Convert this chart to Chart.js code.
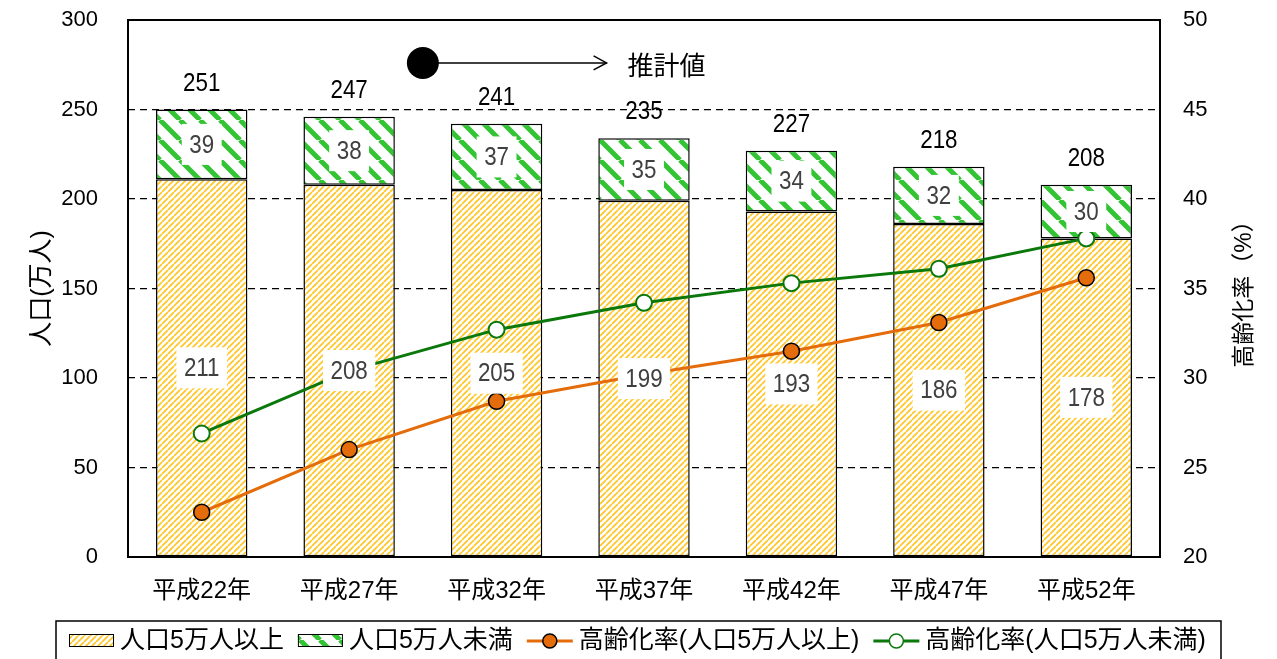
<!DOCTYPE html>
<html>
<head>
<meta charset="utf-8">
<script src="https://cdn.jsdelivr.net/npm/chart.js@4.4.0/dist/chart.umd.min.js"></script>
<style>
  html,body{margin:0;padding:0;background:#fff}
  #wrap{width:1277px;height:659px}
</style>
</head>
<body>
<div id="wrap"><canvas id="c" width="1277" height="659"></canvas></div>
<script>
// 年次
const years=['平成22年','平成27年','平成32年','平成37年','平成42年','平成47年','平成52年'];
// 人口（万人）
const popOver=[211,208,205,199,193,186,178];
const popUnder=[39,38,37,35,34,32,30];
const popTotal=[251,247,241,235,227,218,208];
// 高齢化率（%）
const agingOver=[22.5,26.0,28.7,30.2,31.5,33.1,35.6];
const agingUnder=[26.9,30.4,32.7,34.2,35.3,36.1,37.8];
// 軸
const popAxis={min:0,max:300,step:50};
const rateAxis={min:20,max:50,step:5};
const projFrom=2; // 平成32年から推計値

const FONT='"Liberation Sans","Noto Sans CJK JP",sans-serif';

function stripes(color,size,width,slash){
  const c=document.createElement('canvas');c.width=c.height=size;
  const g=c.getContext('2d');
  g.fillStyle='#fff';g.fillRect(0,0,size,size);
  g.strokeStyle=color;g.lineWidth=width;
  g.beginPath();
  for(let k=-1;k<=1;k++){
    if(slash){g.moveTo(k*size,size);g.lineTo(k*size+size,0);}
    else{g.moveTo(k*size,0);g.lineTo(k*size+size,size);}
  }
  g.stroke();
  return g.createPattern(c,'repeat');
}
const yellowHatch=stripes('#ffc626',6,1.7,true);
const greenHatch=stripes('#33c433',20,5,false);

// 数字は少し細めに描く
function narrowText(ctx,t,x,y,sx){
  ctx.save();ctx.translate(x,y);ctx.scale(sx,1);ctx.fillText(t,0,0);ctx.restore();
}

// 棒の中の値と合計
const barLabels={id:'barLabels',afterDatasetsDraw(chart){
  const ctx=chart.ctx;
  ctx.save();
  ctx.textAlign='center';ctx.textBaseline='middle';
  ctx.font='26px '+FONT;
  const sx=0.86;
  [0,1].forEach(di=>{
    chart.getDatasetMeta(di).data.forEach((bar,i)=>{
      const t=String(chart.data.datasets[di].data[i]);
      const cy=(bar.y+bar.base)/2;
      const w=ctx.measureText(t).width*sx+15,h=41;
      ctx.fillStyle='#fff';ctx.fillRect(bar.x-w/2,cy-h/2,w,h);
      ctx.fillStyle='#404040';narrowText(ctx,t,bar.x,cy+1,sx);
    });
  });
  ctx.fillStyle='#000';
  chart.getDatasetMeta(1).data.forEach((bar,i)=>{
    narrowText(ctx,String(popTotal[i]),bar.x,bar.y-26,sx);
  });
  ctx.restore();
}};

// 枠線
const frame={id:'frame',beforeDatasetsDraw(chart){
  const {ctx,chartArea:a}=chart;
  ctx.save();ctx.strokeStyle='#000';ctx.lineWidth=2;
  ctx.strokeRect(a.left,a.top,a.right-a.left,a.bottom-a.top);
  ctx.restore();
}};

// 軸タイトル（両側とも下から上へ）
const axisTitles={id:'axisTitles',afterDraw(chart){
  const {ctx,chartArea:a}=chart;
  const mid=(a.top+a.bottom)/2;
  ctx.save();ctx.fillStyle='#000';ctx.textAlign='center';ctx.textBaseline='middle';
  ctx.font='25px '+FONT;
  ctx.translate(42,mid);ctx.rotate(-Math.PI/2);ctx.fillText('人口(万人)',0,0);
  ctx.setTransform(1,0,0,1,0,0);
  ctx.font='23px '+FONT;
  ctx.translate(1245,mid);ctx.rotate(-Math.PI/2);ctx.fillText('高齢化率（%）',0,0);
  ctx.restore();
}};

// 推計値の矢印
const projMark={id:'projMark',afterDraw(chart){
  const {ctx,scales:{x,y}}=chart;
  const x0=(x.getPixelForValue(projFrom-1)+x.getPixelForValue(projFrom))/2;
  const x1=x.getPixelForValue(projFrom)+110;
  const cy=y.getPixelForValue(276);
  ctx.save();
  ctx.strokeStyle='#000';ctx.lineWidth=1.5;
  ctx.beginPath();ctx.moveTo(x0,cy);ctx.lineTo(x1,cy);ctx.stroke();
  ctx.beginPath();ctx.moveTo(x1-13,cy-7);ctx.lineTo(x1,cy);ctx.lineTo(x1-13,cy+7);ctx.stroke();
  ctx.fillStyle='#000';ctx.beginPath();ctx.arc(x0,cy,16,0,Math.PI*2);ctx.fill();
  ctx.font='26px '+FONT;ctx.textAlign='left';ctx.textBaseline='middle';
  ctx.fillText('推計値',x1+21,cy+5);
  ctx.restore();
}};

// 凡例（枠付き）
const boxLegend={id:'boxLegend',afterDraw(chart){
  const ctx=chart.ctx;
  ctx.save();
  ctx.strokeStyle='#000';ctx.lineWidth=1.5;
  ctx.strokeRect(56,621,1165,60);
  ctx.font='25px '+FONT;ctx.textBaseline='middle';ctx.textAlign='left';
  let px=69;const cy=641;
  chart.data.datasets.forEach(ds=>{
    if(ds.type==='line'){
      ctx.strokeStyle=ds.borderColor;ctx.lineWidth=3;
      ctx.beginPath();ctx.moveTo(px,cy);ctx.lineTo(px+46,cy);ctx.stroke();
      ctx.fillStyle=ds.pointBackgroundColor;ctx.strokeStyle=ds.pointBorderColor;ctx.lineWidth=1.5;
      ctx.beginPath();ctx.arc(px+23,cy,7,0,Math.PI*2);ctx.fill();ctx.stroke();
      px+=52;
    }else{
      ctx.fillStyle=ds.backgroundColor;ctx.fillRect(px,cy-7,45,13);
      ctx.strokeStyle='#000';ctx.lineWidth=1;ctx.strokeRect(px+0.5,cy-6.5,44,12);
      px+=51;
    }
    ctx.fillStyle='#000';ctx.fillText(ds.label,px,cy);
    px+=ctx.measureText(ds.label).width+14;
  });
  ctx.restore();
}};

Chart.defaults.font.family=FONT;
Chart.defaults.color='#000';

// 軸の幅・高さを固定し、ラベルのはみ出し分の余白は付けない
const fixV=w=>s=>{s.width=w;s.paddingTop=0;s.paddingBottom=0;};
const fixH=h=>s=>{s.height=h;s.paddingLeft=0;s.paddingRight=0;};

new Chart(document.getElementById('c'),{
  data:{
    labels:years,
    datasets:[
      {type:'bar',label:'人口5万人以上',data:popOver,backgroundColor:yellowHatch,borderColor:'#000',borderWidth:1.5,borderSkipped:false,stack:'pop',yAxisID:'y',order:2,barPercentage:0.62,categoryPercentage:1},
      {type:'bar',label:'人口5万人未満',data:popUnder,backgroundColor:greenHatch,borderColor:'#000',borderWidth:1.5,borderSkipped:false,stack:'pop',yAxisID:'y',order:2,barPercentage:0.62,categoryPercentage:1},
      {type:'line',label:'高齢化率(人口5万人以上)',data:agingOver,yAxisID:'y2',order:1,borderColor:'#e46c0a',borderWidth:3,pointRadius:8,pointBackgroundColor:'#e46c0a',pointBorderColor:'#000',pointBorderWidth:1.5,tension:0},
      {type:'line',label:'高齢化率(人口5万人未満)',data:agingUnder,yAxisID:'y2',order:0,borderColor:'#0b780b',borderWidth:3,pointRadius:8,pointBackgroundColor:'#fff',pointBorderColor:'#0b780b',pointBorderWidth:2,tension:0}
    ]
  },
  options:{
    responsive:false,animation:false,devicePixelRatio:1,
    layout:{padding:{top:20,bottom:57,left:0,right:0}},
    plugins:{legend:{display:false},tooltip:{enabled:false}},
    scales:{
      x:{stacked:true,offset:true,grid:{display:false},border:{display:false},
        ticks:{font:{size:24},padding:12,maxRotation:0},afterFit:fixH(45)},
      y:{position:'left',stacked:true,min:popAxis.min,max:popAxis.max,
        ticks:{stepSize:popAxis.step,font:{size:22},padding:30},
        grid:{color:'#000',lineWidth:1.3,drawTicks:false},border:{display:false,dash:[7,5]},
        afterFit:fixV(128)},
      y2:{position:'right',min:rateAxis.min,max:rateAxis.max,
        ticks:{stepSize:rateAxis.step,font:{size:22},padding:23},
        grid:{display:false,drawTicks:false},border:{display:false},
        afterFit:fixV(117)}
    }
  },
  plugins:[frame,barLabels,axisTitles,projMark,boxLegend]
});
</script>
</body>
</html>
